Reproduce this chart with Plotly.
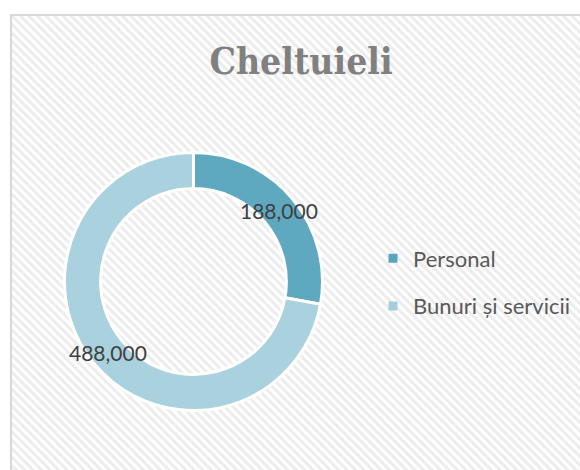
import math
import plotly.graph_objects as go

# ---- data ----
categories = ["Personal", "Bunuri și servicii"]
values = [188000, 488000]
value_labels = ["188,000", "488,000"]
slice_colors = ["#5fa9c0", "#a9d1de"]
legend_colors = ["#58a5bd", "#a4cede"]
title_text = "Cheltuieli"

# ---- layout geometry (pixels) ----
W, H = 580, 470
cx_px, cy_px, R_px = 193.5, 281.5, 129
hole = 0.72

fig = go.Figure()

# hatched chart-area background
fig.add_trace(go.Scatter(
    x=[0, 1.3, 1.3, 0, 0], y=[-0.3, -0.3, 1, 1, -0.3],
    fill="toself", mode="none", fillcolor="white",
    fillpattern=dict(shape="\\", fgcolor="#dadada", bgcolor="white",
                     size=6, solidity=0.5),
    hoverinfo="skip", showlegend=False))

# donut
fig.add_trace(go.Pie(
    labels=categories, values=values, hole=hole, sort=False,
    direction="clockwise", rotation=0,
    marker=dict(colors=slice_colors, line=dict(color="white", width=3)),
    textinfo="none", showlegend=False,
    domain=dict(x=[(cx_px - R_px) / W, (cx_px + R_px) / W],
                y=[1 - (cy_px + R_px) / H, 1 - (cy_px - R_px) / H])))

# legend entries
for i, name in enumerate(categories):
    fig.add_trace(go.Scatter(
        x=[None], y=[None], mode="markers", name=name,
        legendgroup=f"g{i}",
        marker=dict(symbol="square", size=9, color=legend_colors[i])))

# data labels placed at ring mid-radius, mid-angle of each slice
total = sum(values)
annotations = []
cum = 0
r_lab = (hole * R_px + R_px) / 2
for v, lab in zip(values, value_labels):
    mid = (cum + v / 2) / total * 2 * math.pi
    cum += v
    x = (cx_px + r_lab * math.sin(mid)) / W
    y = 1 - (cy_px - r_lab * math.cos(mid)) / H
    annotations.append(dict(x=x, y=y, xref="paper", yref="paper",
                            text=lab, showarrow=False,
                            font=dict(family="Lato", size=21, color="#404040"),
                            xanchor="center", yanchor="middle"))

fig.update_layout(
    width=W, height=H, margin=dict(l=0, r=0, t=0, b=0),
    paper_bgcolor="white", plot_bgcolor="rgba(0,0,0,0)",
    xaxis=dict(domain=[10 / W, 1], range=[0, 1], visible=False, fixedrange=True),
    yaxis=dict(domain=[0, 1 - 14 / H], range=[0, 1], visible=False, fixedrange=True),
    title=dict(text=f"<b>{title_text}</b>", x=301 / W, y=1 - 61 / H,
               xanchor="center", yanchor="middle",
               font=dict(family="DejaVu Serif Condensed, DejaVu Serif", size=37,
                         color="#808080")),
    legend=dict(x=373 / W, y=1 - 282.5 / H, xanchor="left", yanchor="middle",
                font=dict(family="Lato", size=22, color="#595959"),
                tracegroupgap=16, bgcolor="rgba(0,0,0,0)"),
    annotations=annotations,
    shapes=[dict(type="rect", xref="paper", yref="paper",
                 x0=11 / W, x1=1.02, y0=-0.02, y1=1 - 15 / H,
                 line=dict(color="#d9d9d9", width=2), fillcolor="rgba(0,0,0,0)",
                 layer="above")],
)

fig.write_html("out.html",
               config={"displayModeBar": False},
               post_script="document.body.style.margin='0';document.body.style.overflow='hidden';")
